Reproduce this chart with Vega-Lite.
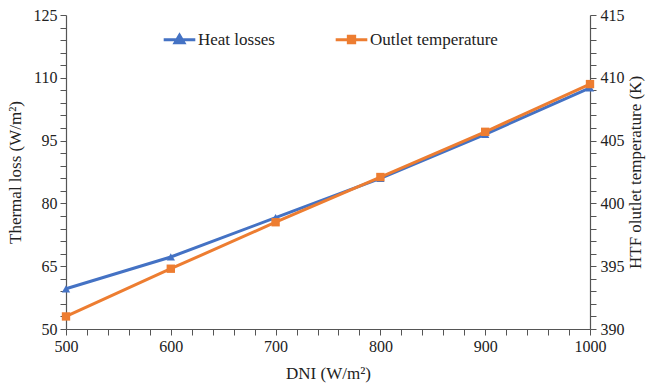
{
  "$schema": "https://vega.github.io/schema/vega-lite/v6.json",
  "width": 524,
  "height": 314,
  "autosize": "none",
  "padding": {"left": 66, "top": 15, "right": 62, "bottom": 56},
  "background": "white",
  "config": {
    "view": {"stroke": null},
    "font": "Liberation Serif",
    "axis": {
      "labelFont": "Liberation Serif",
      "titleFont": "Liberation Serif",
      "labelFontSize": 16,
      "titleFontSize": 17,
      "titleFontWeight": "normal",
      "labelColor": "#222",
      "titleColor": "#222",
      "domainColor": "#555",
      "tickColor": "#555",
      "domainWidth": 1.2,
      "tickWidth": 1,
      "grid": false,
      "labelOverlap": false
    },
    "legend": {
      "labelFont": "Liberation Serif",
      "labelFontSize": 17,
      "labelColor": "#222"
    }
  },
  "data": {
    "values": [
      {"DNI": 500, "series": "Heat losses", "value": 59.6},
      {"DNI": 600, "series": "Heat losses", "value": 67.2},
      {"DNI": 700, "series": "Heat losses", "value": 76.6},
      {"DNI": 800, "series": "Heat losses", "value": 86.0},
      {"DNI": 900, "series": "Heat losses", "value": 96.5},
      {"DNI": 1000, "series": "Heat losses", "value": 107.6},
      {"DNI": 500, "series": "Outlet temperature", "value": 391.0},
      {"DNI": 600, "series": "Outlet temperature", "value": 394.8},
      {"DNI": 700, "series": "Outlet temperature", "value": 398.5},
      {"DNI": 800, "series": "Outlet temperature", "value": 402.1},
      {"DNI": 900, "series": "Outlet temperature", "value": 405.7},
      {"DNI": 1000, "series": "Outlet temperature", "value": 409.5}
    ]
  },
  "encoding": {
    "x": {
      "field": "DNI",
      "type": "quantitative",
      "scale": {"domain": [500, 1000], "nice": false},
      "axis": {
        "title": "DNI (W/m²)",
        "format": "d",
        "values": [500,520,540,560,580,600,620,640,660,680,700,720,740,760,780,800,820,840,860,880,900,920,940,960,980,1000],
        "labelExpr": "datum.value % 100 === 0 ? datum.label : ''",
        "labelFlush": false,
        "tickSize": 6,
        "labelPadding": 3,
        "titlePadding": 11,
        "encode": {"ticks": {"update": {"y2": {"signal": "datum.value % 100 === 0 ? 6 : 4"}}}}
      }
    },
    "color": {
      "field": "series",
      "type": "nominal",
      "scale": {"domain": ["Heat losses", "Outlet temperature"], "range": ["#4472C4", "#ED7D31"]},
      "legend": {
        "title": null,
        "orient": "none",
        "direction": "horizontal",
        "legendX": 96,
        "legendY": 7,
        "symbolSize": 1000,
        "labelOffset": 1,
        "columnPadding": 54,
        "symbolStrokeWidth": 3,
        "encode": {
          "symbols": {
            "update": {
              "shape": [
                {"test": "datum.value === 'Heat losses'", "value": "M-1,0H1M-0.28,0.2L0,-0.28L0.28,0.2Z"},
                {"value": "M-1,0H1M-0.2,-0.22H0.2V0.18H-0.2Z"}
              ],
              "fill": {"scale": "color", "field": "value"},
              "stroke": {"scale": "color", "field": "value"},
              "strokeWidth": {"value": 3},
              "opacity": {"value": 1}
            }
          }
        }
      }
    }
  },
  "layer": [
    {
      "transform": [{"filter": "datum.series === 'Heat losses'"}],
      "mark": {"type": "line", "strokeWidth": 3, "point": {"shape": "triangle-up", "filled": true, "size": 70, "opacity": 1}},
      "encoding": {
        "y": {
          "field": "value",
          "type": "quantitative",
          "scale": {"domain": [50, 125], "nice": false, "zero": false},
          "axis": {
            "orient": "left",
            "title": "Thermal loss (W/m²)",
            "values": [50,53,56,59,62,65,68,71,74,77,80,83,86,89,92,95,98,101,104,107,110,113,116,119,122,125],
            "labelExpr": "(datum.value - 50) % 15 === 0 ? datum.label : ''",
            "tickSize": 6,
            "labelPadding": 3,
            "titlePadding": 9,
            "encode": {"ticks": {"update": {"x2": {"signal": "(datum.value - 50) % 15 === 0 ? -6 : -4"}}}}
          }
        }
      }
    },
    {
      "transform": [{"filter": "datum.series === 'Outlet temperature'"}],
      "mark": {"type": "line", "strokeWidth": 3, "point": {"shape": "square", "filled": true, "size": 70, "opacity": 1}},
      "encoding": {
        "y": {
          "field": "value",
          "type": "quantitative",
          "scale": {"domain": [390, 415], "nice": false, "zero": false},
          "axis": {
            "orient": "right",
            "title": "HTF olutlet temperature (K)",
            "titleAngle": 270,
            "titleBaseline": "top",
            "values": [390,391,392,393,394,395,396,397,398,399,400,401,402,403,404,405,406,407,408,409,410,411,412,413,414,415],
            "labelExpr": "datum.value % 5 === 0 ? datum.label : ''",
            "tickSize": 6,
            "labelPadding": 4,
            "titlePadding": 3,
            "encode": {"ticks": {"update": {"x2": {"signal": "datum.value % 5 === 0 ? 6 : 4"}}}}
          }
        }
      }
    }
  ],
  "resolve": {"scale": {"y": "independent"}, "axis": {"y": "independent"}}
}
